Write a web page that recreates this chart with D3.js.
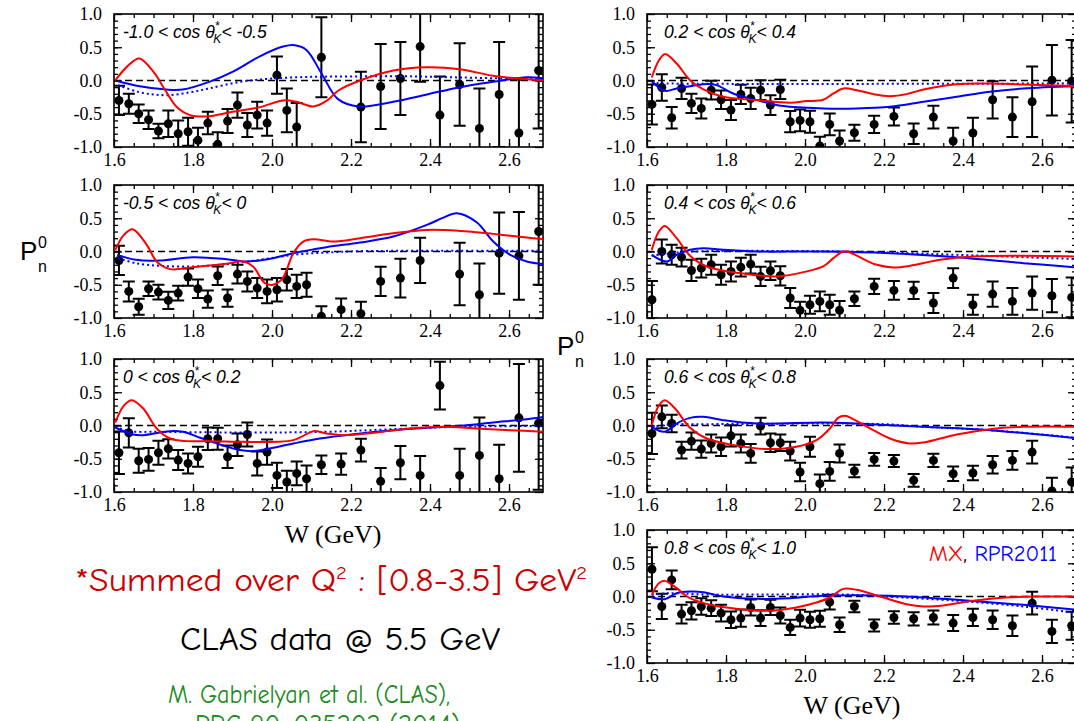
<!DOCTYPE html>
<html>
<head>
<meta charset="utf-8">
<script src="https://cdn.jsdelivr.net/npm/d3@7"></script>
<style>
  body { margin: 0; background: #fff; overflow: hidden; }
  svg { display: block; }
</style>
</head>
<body>
<svg id="chart" width="1074" height="721"></svg>
<script>
'use strict';

// W bin centres (GeV) of the data points
const wBins = [1.6125, 1.6375, 1.6625, 1.6875, 1.7125, 1.7375, 1.7625, 1.7875, 1.8125, 1.8375,
  1.8625, 1.8875, 1.9125, 1.9375, 1.9625, 1.9875, 2.0125, 2.0375, 2.0625, 2.0875,
  2.125, 2.175, 2.225, 2.275, 2.325, 2.375, 2.425, 2.475, 2.525, 2.575, 2.625, 2.675];

// cos theta_K bins, one per panel
const cosLow  = ['-1.0', '-0.5', '0', '0.2', '0.4', '0.6', '0.8'];
const cosHigh = ['-0.5', '0', '0.2', '0.4', '0.6', '0.8', '1.0'];

const xTicks = [1.6, 1.8, 2.0, 2.2, 2.4, 2.6];
const yTicks = [-1.0, -0.5, 0.0, 0.5, 1.0];

// measured P_n^0 and errors (null = not shown)
const p1Val = [-0.30,-0.35,-0.50,-0.59,-0.76,-0.65,-0.80,-0.77,-0.90,-0.64,-0.96,-0.61,-0.37,-0.67,-0.52,-0.64,0.08,-0.45,-0.70,null,0.35,null,-0.40,-0.09,0.03,0.51,-0.52,-0.06,-0.72,-0.21,-0.79,0.15];
const p1Err = [0.22,0.15,0.14,0.14,0.11,0.20,0.20,0.21,0.19,0.17,0.18,0.18,0.19,0.18,0.20,0.19,0.28,0.33,0.36,null,0.60,null,0.53,0.64,0.55,0.53,0.58,0.62,0.60,0.79,0.80,0.87];
const p2Val = [-0.135,-0.60,-0.83,-0.56,-0.61,-0.735,-0.625,-0.385,-0.56,-0.715,-0.365,-0.70,-0.34,-0.45,-0.55,-0.60,-0.575,-0.425,-0.525,-0.50,-0.975,-0.875,-0.935,-0.45,-0.40,-0.135,null,-0.34,-0.65,-0.025,-0.065,0.30];
const p2Err = [0.22,0.15,0.12,0.11,0.11,0.13,0.11,0.13,0.14,0.13,0.14,0.13,0.14,0.15,0.15,0.18,0.175,0.16,0.175,0.18,0.15,0.17,0.18,0.22,0.29,0.34,null,0.47,0.47,0.61,0.66,0.80];
const p3Val = [-0.41,-0.11,-0.53,-0.51,-0.41,-0.35,-0.52,-0.57,-0.47,-0.20,-0.20,-0.47,-0.29,-0.135,-0.57,-0.40,-0.75,-0.85,-0.72,-0.80,-0.59,-0.58,-0.37,-0.84,-0.56,-0.75,0.60,-0.75,-0.45,-0.80,0.115,0.035];
const p3Err = [0.32,0.22,0.18,0.17,0.18,0.145,0.15,0.15,0.15,0.17,0.165,0.17,0.17,0.18,0.18,0.19,0.19,0.17,0.18,0.20,0.14,0.16,0.17,0.20,0.25,0.29,0.36,0.40,0.57,0.51,0.81,1.0];
const p4Val = [-0.36,-0.105,-0.56,-0.12,-0.345,-0.42,-0.145,-0.29,-0.445,-0.21,-0.27,-0.145,-0.37,-0.135,-0.62,-0.60,-0.62,-0.985,-0.66,-0.91,-0.785,-0.66,-0.54,-0.80,-0.55,-0.91,-0.79,-0.29,-0.55,-0.32,0.005,-0.01];
const p4Err = [0.30,0.20,0.16,0.16,0.145,0.15,0.14,0.14,0.15,0.145,0.16,0.15,0.15,0.145,0.16,0.165,0.165,0.14,0.165,0.16,0.12,0.13,0.135,0.155,0.17,0.20,0.23,0.28,0.30,0.53,0.53,0.62];
const p5Val = [-0.725,0.0,-0.05,-0.085,-0.285,-0.25,-0.20,-0.35,-0.30,-0.235,-0.19,-0.375,-0.29,-0.365,-0.70,-0.885,-0.80,-0.75,-0.80,-0.885,-0.71,-0.525,-0.585,-0.585,-0.775,-0.40,-0.80,-0.64,-0.75,-0.625,-0.665,-0.69];
const p5Err = [0.28,0.18,0.15,0.14,0.16,0.14,0.15,0.15,0.15,0.14,0.14,0.145,0.14,0.145,0.15,0.13,0.135,0.15,0.15,0.14,0.11,0.115,0.14,0.13,0.15,0.15,0.15,0.19,0.20,0.25,0.25,0.30];
const p6Val = [-0.12,0.13,0.03,-0.37,-0.235,-0.355,-0.27,-0.32,-0.155,-0.27,-0.42,-0.01,-0.26,-0.26,-0.385,-0.70,-0.32,-0.875,-0.69,-0.42,-0.685,-0.51,-0.535,-0.825,-0.525,-0.725,-0.715,-0.59,-0.525,-0.40,-0.985,-0.85];
const p6Err = [0.31,0.17,0.13,0.125,0.13,0.13,0.135,0.14,0.16,0.135,0.14,0.125,0.14,0.125,0.14,0.14,0.15,0.14,0.14,0.135,0.095,0.095,0.09,0.095,0.10,0.11,0.11,0.13,0.14,0.17,0.20,0.22];
const p7Val = [0.41,-0.15,0.25,-0.265,-0.215,-0.15,-0.175,-0.25,-0.35,-0.325,-0.165,-0.325,-0.165,-0.285,-0.465,-0.325,-0.35,-0.335,-0.085,-0.425,-0.15,-0.435,-0.315,-0.335,-0.315,-0.40,-0.315,-0.35,-0.44,-0.10,-0.525,-0.44];
const p7Err = [0.33,0.19,0.14,0.14,0.13,0.125,0.12,0.125,0.125,0.13,0.12,0.12,0.115,0.12,0.115,0.125,0.12,0.12,0.11,0.11,0.085,0.09,0.095,0.10,0.105,0.12,0.13,0.14,0.155,0.17,0.175,0.21];

// model curves as [W, P] knots: MX (red), RPR2011 (blue), RPR2011 dotted
const p1Red = [[1.603,0.0],[1.635,0.22],[1.664,0.33],[1.70,0.13],[1.729,-0.14],[1.759,-0.40],[1.792,-0.52],[1.835,-0.54],[1.90,-0.47],[1.97,-0.40],[2.028,-0.30],[2.062,-0.32],[2.105,-0.39],[2.14,-0.30],[2.168,-0.15],[2.223,0.0],[2.307,0.15],[2.392,0.20],[2.476,0.17],[2.56,0.07],[2.645,0.02],[2.69,0.0]];
const p1Blue = [[1.61,-0.01],[1.665,-0.085],[1.732,-0.135],[1.774,-0.135],[1.841,-0.02],[1.90,0.13],[1.968,0.36],[2.028,0.51],[2.058,0.53],[2.087,0.46],[2.125,0.11],[2.167,-0.28],[2.22,-0.39],[2.307,-0.32],[2.392,-0.21],[2.476,-0.10],[2.56,-0.02],[2.645,0.05],[2.69,0.03]];
const p1Dot = [[1.61,-0.07],[1.66,-0.17],[1.70,-0.21],[1.74,-0.22],[1.79,-0.18],[1.84,-0.12],[1.92,-0.02],[2.0,0.03],[2.1,0.055],[2.2,0.06],[2.31,0.065],[2.48,0.045],[2.69,0.015]];
const p2Red = [[1.603,0.02],[1.625,0.25],[1.647,0.335],[1.683,0.10],[1.708,-0.15],[1.742,-0.265],[1.80,-0.235],[1.885,-0.185],[1.927,-0.15],[1.952,-0.225],[1.982,-0.475],[2.003,-0.50],[2.027,-0.40],[2.054,-0.025],[2.079,0.15],[2.105,0.185],[2.155,0.15],[2.223,0.20],[2.307,0.275],[2.392,0.325],[2.476,0.31],[2.56,0.265],[2.645,0.21],[2.69,0.185]];
const p2Blue = [[1.608,-0.05],[1.655,-0.125],[1.716,-0.135],[1.80,-0.085],[1.885,-0.115],[1.935,-0.15],[2.003,-0.10],[2.054,-0.025],[2.138,0.065],[2.223,0.135],[2.307,0.225],[2.392,0.40],[2.434,0.51],[2.468,0.575],[2.518,0.44],[2.56,0.15],[2.603,-0.05],[2.645,-0.15],[2.69,-0.19]];
const p2Dot = [[1.61,-0.10],[1.655,-0.175],[1.716,-0.215],[1.80,-0.225],[1.885,-0.19],[1.97,-0.125],[2.054,-0.05],[2.138,-0.015],[2.223,0.005],[2.69,0.01]];
const p3Red = [[1.603,0.045],[1.625,0.30],[1.645,0.38],[1.674,0.255],[1.708,-0.045],[1.742,-0.195],[1.784,-0.235],[1.843,-0.235],[1.927,-0.245],[2.012,-0.245],[2.054,-0.22],[2.079,-0.155],[2.105,-0.085],[2.138,-0.12],[2.18,-0.145],[2.265,-0.105],[2.349,-0.045],[2.434,-0.02],[2.518,-0.045],[2.603,-0.07],[2.69,-0.095]];
const p3Blue = [[1.603,-0.03],[1.648,-0.135],[1.674,-0.145],[1.716,-0.105],[1.742,-0.085],[1.775,-0.095],[1.818,-0.185],[1.868,-0.285],[1.919,-0.37],[1.952,-0.385],[1.994,-0.345],[2.054,-0.27],[2.121,-0.195],[2.206,-0.13],[2.307,-0.07],[2.392,-0.035],[2.476,-0.005],[2.56,0.045],[2.645,0.095],[2.69,0.13]];
const p3Dot = [[1.603,-0.02],[1.64,-0.085],[1.716,-0.095],[1.95,-0.105],[2.138,-0.095],[2.307,-0.055],[2.476,-0.02],[2.69,-0.005]];
const p4Red = [[1.612,0.045],[1.63,0.30],[1.646,0.40],[1.675,0.255],[1.709,0.005],[1.743,-0.135],[1.793,-0.245],[1.878,-0.295],[1.962,-0.335],[2.004,-0.31],[2.046,-0.29],[2.072,-0.195],[2.097,-0.12],[2.131,-0.145],[2.173,-0.205],[2.215,-0.235],[2.257,-0.205],[2.30,-0.135],[2.384,-0.055],[2.468,-0.045],[2.553,-0.06],[2.69,-0.085]];
const p4Blue = [[1.612,-0.01],[1.645,-0.155],[1.675,-0.12],[1.709,-0.085],[1.743,-0.055],[1.776,-0.07],[1.818,-0.195],[1.878,-0.295],[1.945,-0.385],[2.046,-0.42],[2.131,-0.42],[2.215,-0.395],[2.30,-0.32],[2.384,-0.245],[2.468,-0.17],[2.553,-0.12],[2.69,-0.085]];
const p4Dot = [[1.612,-0.035],[1.65,-0.045],[2.69,-0.045]];
const p5Red = [[1.612,0.025],[1.63,0.30],[1.645,0.385],[1.675,0.20],[1.709,-0.065],[1.751,-0.225],[1.835,-0.325],[1.928,-0.375],[2.004,-0.30],[2.046,-0.225],[2.072,-0.10],[2.097,0.0],[2.114,-0.015],[2.148,-0.115],[2.182,-0.20],[2.224,-0.24],[2.266,-0.215],[2.342,-0.125],[2.426,-0.075],[2.553,-0.065],[2.69,-0.075]];
const p5Blue = [[1.612,-0.05],[1.65,-0.15],[1.675,-0.05],[1.709,0.025],[1.743,0.05],[1.793,0.025],[1.878,0.0],[2.046,0.0],[2.215,-0.025],[2.384,-0.085],[2.553,-0.175],[2.69,-0.24]];
const p5Dot = [[1.612,-0.065],[1.66,-0.025],[1.72,0.0],[2.10,0.0],[2.384,-0.05],[2.69,-0.115]];
const p6Red = [[1.612,0.005],[1.63,0.30],[1.645,0.38],[1.671,0.255],[1.709,-0.035],[1.751,-0.195],[1.835,-0.31],[1.91,-0.355],[1.978,-0.32],[2.029,-0.22],[2.063,-0.045],[2.084,0.115],[2.101,0.145],[2.122,0.095],[2.173,-0.07],[2.215,-0.195],[2.265,-0.27],[2.30,-0.255],[2.384,-0.135],[2.468,-0.055],[2.553,-0.02],[2.69,-0.02]];
const p6Blue = [[1.612,-0.02],[1.645,-0.095],[1.675,0.03],[1.709,0.115],[1.743,0.13],[1.793,0.08],[1.878,0.03],[2.046,0.045],[2.131,0.03],[2.30,-0.02],[2.468,-0.07],[2.69,-0.195]];
const p6Dot = [[1.612,-0.02],[1.66,0.015],[1.75,0.02],[2.2,0.02],[2.30,-0.02],[2.468,-0.07],[2.69,-0.185]];
const p7Red = [[1.612,0.025],[1.63,0.20],[1.645,0.235],[1.675,0.125],[1.709,-0.025],[1.76,-0.125],[1.835,-0.19],[1.91,-0.215],[1.978,-0.165],[2.029,-0.09],[2.063,-0.015],[2.097,0.115],[2.131,0.10],[2.19,0.0],[2.257,-0.115],[2.30,-0.15],[2.35,-0.135],[2.426,-0.065],[2.51,-0.015],[2.595,0.0],[2.69,0.0]];
const p7Blue = [[1.612,-0.015],[1.645,-0.04],[1.675,0.05],[1.709,0.075],[1.743,0.065],[1.793,0.0],[1.878,-0.035],[1.962,-0.025],[2.046,0.01],[2.215,0.01],[2.384,-0.05],[2.553,-0.125],[2.69,-0.20]];
const p7Dot = [[1.612,0.025],[1.66,0.05],[1.75,0.03],[2.1,0.03],[2.2,0.0],[2.384,-0.065],[2.553,-0.15],[2.69,-0.25]];

// layout
const panelW = 429, panelH = 133;
const boxes = [
  {x: 114, y: 14}, {x: 114, y: 185}, {x: 114, y: 359},
  {x: 647, y: 14}, {x: 647, y: 185}, {x: 647, y: 359}, {x: 647, y: 530}
];
const panels = [
  [p1Val, p1Err, p1Red, p1Blue, p1Dot],
  [p2Val, p2Err, p2Red, p2Blue, p2Dot],
  [p3Val, p3Err, p3Red, p3Blue, p3Dot],
  [p4Val, p4Err, p4Red, p4Blue, p4Dot],
  [p5Val, p5Err, p5Red, p5Blue, p5Dot],
  [p6Val, p6Err, p6Red, p6Blue, p6Dot],
  [p7Val, p7Err, p7Red, p7Blue, p7Dot]
];

const RED = '#ff0000', BLUE = '#0000ff';
const serif = "'Liberation Serif', 'Times New Roman', serif";
const sans = "'Liberation Sans', Arial, sans-serif";
const comic = "'Comic Sans MS', 'Comic Neue', 'DejaVu Sans', sans-serif";

const svg = d3.select('#chart');

const x = d3.scaleLinear().domain([1.6, 2.686]).range([0, panelW]);
const y = d3.scaleLinear().domain([-1, 1]).range([panelH, 0]);

const xMinor = d3.range(1.65, 2.69, 0.05);
const yMinor = d3.range(-0.9, 0.95, 0.1);
const fmt = d => d.toFixed(1);

const line = d3.line()
  .x(d => x(d[0]))
  .y(d => y(d[1]))
  .curve(d3.curveCatmullRom.alpha(0.5));

function styleAxis(g, labels){
  g.select('.domain').remove();
  g.selectAll('.tick line').attr('stroke', '#000').attr('stroke-width', 1.3);
  g.selectAll('.tick text')
    .attr('font-family', serif)
    .attr('font-size', labels ? 18 : 0)
    .attr('fill', '#000');
}

function drawPanel(i){
  const box = boxes[i];
  const [vals, errs, red, blue, dots] = panels[i];
  const g = svg.append('g').attr('transform', `translate(${box.x},${box.y})`);

  g.append('clipPath').attr('id', 'clip' + i)
    .append('rect').attr('width', panelW).attr('height', panelH);

  // ticks on all four sides, pointing inward
  g.append('g').attr('transform', `translate(0,${panelH})`)
    .call(d3.axisBottom(x).tickValues(xTicks).tickFormat(fmt).tickSize(-8).tickPadding(6))
    .call(a => styleAxis(a, true));
  g.append('g').attr('transform', `translate(0,${panelH})`)
    .call(d3.axisBottom(x).tickValues(xMinor).tickFormat('').tickSize(-4))
    .call(a => styleAxis(a, false));
  g.append('g')
    .call(d3.axisTop(x).tickValues(xTicks).tickFormat('').tickSize(-8))
    .call(a => styleAxis(a, false));
  g.append('g')
    .call(d3.axisTop(x).tickValues(xMinor).tickFormat('').tickSize(-4))
    .call(a => styleAxis(a, false));
  g.append('g')
    .call(d3.axisLeft(y).tickValues(yTicks).tickFormat(fmt).tickSize(-8).tickPadding(12))
    .call(a => styleAxis(a, true));
  g.append('g')
    .call(d3.axisLeft(y).tickValues(yMinor).tickFormat('').tickSize(-4))
    .call(a => styleAxis(a, false));
  g.append('g').attr('transform', `translate(${panelW},0)`)
    .call(d3.axisRight(y).tickValues(yTicks).tickFormat('').tickSize(-8))
    .call(a => styleAxis(a, false));
  g.append('g').attr('transform', `translate(${panelW},0)`)
    .call(d3.axisRight(y).tickValues(yMinor).tickFormat('').tickSize(-4))
    .call(a => styleAxis(a, false));

  g.append('rect')
    .attr('width', panelW).attr('height', panelH)
    .attr('fill', 'none').attr('stroke', '#000').attr('stroke-width', 1.6);

  const plot = g.append('g').attr('clip-path', `url(#clip${i})`);

  plot.append('line')
    .attr('x1', 0).attr('x2', panelW)
    .attr('y1', y(0)).attr('y2', y(0))
    .attr('stroke', '#000').attr('stroke-width', 1.5)
    .attr('stroke-dasharray', '7,4');

  // data points with error bars
  const pts = wBins.map((w, k) => ({w: w, v: vals[k], e: errs[k]})).filter(d => d.v !== null);
  const cap = 6;
  plot.selectAll('path.err').data(pts).enter().append('path')
    .attr('class', 'err')
    .attr('d', d => {
      const cx = x(d.w), y1 = y(d.v + d.e), y2 = y(d.v - d.e);
      return `M${cx},${y1}V${y2}M${cx - cap},${y1}H${cx + cap}M${cx - cap},${y2}H${cx + cap}`;
    })
    .attr('fill', 'none').attr('stroke', '#000').attr('stroke-width', 2);
  plot.selectAll('circle').data(pts).enter().append('circle')
    .attr('cx', d => x(d.w)).attr('cy', d => y(d.v)).attr('r', 4.5)
    .attr('fill', '#000');

  // model curves
  plot.append('path').attr('d', line(dots))
    .attr('fill', 'none').attr('stroke', BLUE).attr('stroke-width', 2)
    .attr('stroke-dasharray', '2,3');
  plot.append('path').attr('d', line(blue))
    .attr('fill', 'none').attr('stroke', BLUE).attr('stroke-width', 2);
  plot.append('path').attr('d', line(red))
    .attr('fill', 'none').attr('stroke', RED).attr('stroke-width', 2);

  // bin label
  const lab = g.append('text')
    .attr('x', i < 3 ? 9 : 17).attr('y', 24)
    .attr('font-family', sans).attr('font-style', 'italic').attr('font-size', 17.5)
    .attr('fill', '#000');
  lab.append('tspan').text(`${cosLow[i]} < cos θ`);
  lab.append('tspan').attr('dy', -8).attr('font-size', 12).text('*');
  lab.append('tspan').attr('dx', -6).attr('dy', 13).attr('font-size', 12).text('K');
  lab.append('tspan').attr('dy', -5).attr('font-size', 17.5).text(`< ${cosHigh[i]}`);
}

d3.range(panels.length).forEach(drawPanel);

// axis titles
function pTitle(px, py){
  const t = svg.append('text').attr('x', px).attr('y', py)
    .attr('font-family', sans).attr('font-size', 26).attr('fill', '#000');
  t.append('tspan').text('P');
  t.append('tspan').attr('x', px + 18).attr('dy', -12).attr('font-size', 16).text('0');
  t.append('tspan').attr('x', px + 18).attr('dy', 24).attr('font-size', 16).text('n');
}
pTitle(20, 260);
pTitle(557, 355);

[[333, 543], [852, 714]].forEach(([px, py]) => {
  svg.append('text').attr('x', px).attr('y', py)
    .attr('text-anchor', 'middle')
    .attr('font-family', serif).attr('font-size', 26).attr('fill', '#000')
    .text('W (GeV)');
});

// legend in last panel
const leg = svg.append('text').attr('x', 929).attr('y', 561)
  .attr('font-family', comic).attr('font-size', 22)
  .attr('textLength', 128).attr('lengthAdjust', 'spacingAndGlyphs');
leg.append('tspan').attr('fill', RED).text('MX');
leg.append('tspan').attr('fill', '#000').text(', ');
leg.append('tspan').attr('fill', BLUE).text('RPR2011');

// notes
const note1 = svg.append('text').attr('x', 75).attr('y', 591)
  .attr('font-family', comic).attr('font-size', 33).attr('fill', '#cc0000')
  .attr('textLength', 512).attr('lengthAdjust', 'spacingAndGlyphs');
note1.append('tspan').text('*Summed over Q');
note1.append('tspan').attr('dy', -12).attr('font-size', 19).text('2');
note1.append('tspan').attr('dy', 12).attr('font-size', 33).text(' : [0.8-3.5] GeV');
note1.append('tspan').attr('dy', -12).attr('font-size', 19).text('2');

svg.append('text').attr('x', 180).attr('y', 650)
  .attr('font-family', comic).attr('font-size', 33).attr('fill', '#000')
  .attr('textLength', 320).attr('lengthAdjust', 'spacingAndGlyphs')
  .text('CLAS data @ 5.5 GeV');
svg.append('text').attr('x', 168).attr('y', 703)
  .attr('font-family', comic).attr('font-size', 27).attr('fill', '#1a8a1a')
  .attr('textLength', 282).attr('lengthAdjust', 'spacingAndGlyphs')
  .text('M. Gabrielyan et al. (CLAS),');
svg.append('text').attr('x', 195).attr('y', 733)
  .attr('font-family', comic).attr('font-size', 27).attr('fill', '#1a8a1a')
  .attr('textLength', 265).attr('lengthAdjust', 'spacingAndGlyphs')
  .text('PRC 90, 035202 (2014)');
</script>
</body>
</html>
